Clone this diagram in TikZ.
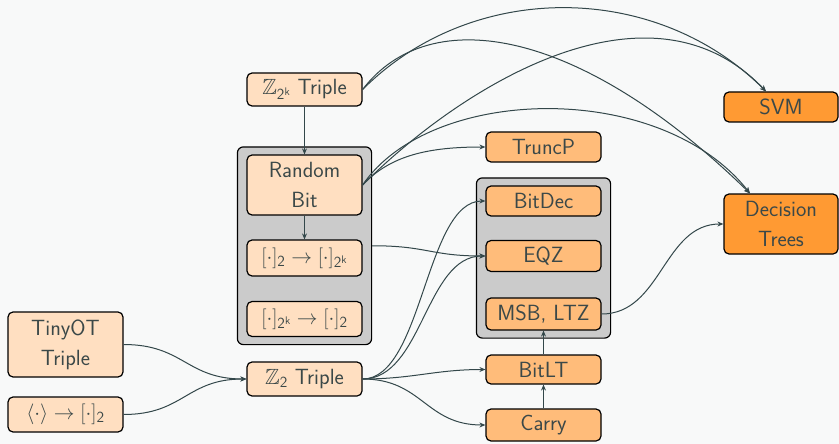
\documentclass[tikz,border=0pt]{standalone}
\usepackage{amssymb}
\usepackage{fontspec}
\usetikzlibrary{arrows.meta,fit,backgrounds}
\definecolor{pagebg}{HTML}{F8F9F9}
\definecolor{textc}{HTML}{3B4848}
\definecolor{edgec}{HTML}{33474A}
\definecolor{lightO}{HTML}{FFDFC1}
\definecolor{midO}{HTML}{FFBC7A}
\definecolor{darkO}{HTML}{FF9A33}
\definecolor{grpfill}{HTML}{CBCBCB}
\tikzset{
  box/.style={draw=black, line width=1.2pt, rounded corners=5pt,
    minimum width=115pt, inner sep=0pt, align=center, text=textc,
    font=\sffamily\fontsize{22}{30}\selectfont},
  basebox/.style={box, fill=lightO},
  midbox/.style={box, fill=midO},
  topbox/.style={box, fill=darkO},
  grp/.style={draw=black, line width=1.2pt, rounded corners=6pt, fill=grpfill,
    inner xsep=9pt, inner ysep=7.5pt},
  arr/.style={draw=edgec, line width=1pt,
    -{Stealth[length=6pt,width=5pt,inset=2pt]}},
}
\newcommand{\sh}[1]{[\cdot]_{\mathsf{#1}}}
\newcommand{\shk}{[\cdot]_{\mathsf{2}^{\mathsf{k}}}}
\begin{document}
\begin{tikzpicture}[x=1pt,y=-1pt]
  \useasboundingbox (0,0) rectangle (839,444);

  % primitives
  \node[basebox, minimum height=33pt] (z2k) at (304.5,89.5) {$\mathbb{Z}_{\mathsf{2}^{\mathsf{k}}}$ Triple};
  \node[basebox, minimum height=60pt] (rb) at (304.5,185) {Random\\Bit};
  \node[basebox, minimum height=36pt] (c2) at (304.5,258) {$\sh{2}\rightarrow\shk$};
  \node[basebox, minimum height=35pt] (c3) at (304.5,319) {$\shk\rightarrow\sh{2}$};
  \node[basebox, minimum height=34pt] (z2) at (304.5,379) {$\mathbb{Z}_{\mathsf{2}}$ Triple};
  \node[basebox, minimum height=65pt] (tiny) at (65.5,344.5) {TinyOT\\Triple};
  \node[basebox, minimum height=35pt] (share) at (65.5,414.5) {$\langle\cdot\rangle\rightarrow\sh{2}$};

  % building blocks
  \node[midbox, minimum height=30pt] (trunc) at (543.5,147) {TruncP};
  \node[midbox, minimum height=30pt] (bitdec) at (543.5,201) {BitDec};
  \node[midbox, minimum height=31pt] (eqz) at (543.5,256) {EQZ};
  \node[midbox, minimum height=32pt] (msb) at (543.5,314) {MSB, LTZ};
  \node[midbox, minimum height=29pt] (bitlt) at (543.5,369.5) {BitLT};
  \node[midbox, minimum height=32pt] (carry) at (543.5,425) {Carry};

  % applications
  \node[topbox, minimum width=114pt, minimum height=30pt] (svm) at (781,107) {SVM};
  \node[topbox, minimum width=114pt, minimum height=60pt] (dt) at (781,224) {Decision\\Trees};

  \begin{scope}[on background layer]
    \fill[pagebg] (0,0) rectangle (839,444);
    \node[grp, fit=(rb)(c2)(c3)] (grp1) {};
    \node[grp, fit=(bitdec)(eqz)(msb)] (grp2) {};
  \end{scope}

  % dependencies
  \draw[arr] (z2k.south) -- (rb.north);
  \draw[arr] (rb.south) -- (c2.north);
  \draw[arr] (carry.north) -- (bitlt.south);
  \draw[arr] (bitlt.north) -- (msb.south);

  \draw[arr] (z2k.east) .. controls +(110,-110) and +(-110,-110) .. ([xshift=-15pt]svm.north);
  \draw[arr] (z2k.east) .. controls +(68,-89) and +(-168,-164) .. ([xshift=-31pt]dt.north);
  \draw[arr] (rb.east) .. controls +(100,-100) and +(-116,-122) .. ([xshift=-15pt]svm.north);
  \draw[arr] (rb.east) .. controls +(68,-100) and +(-90,-114) .. ([xshift=-31pt]dt.north);
  \draw[arr] (rb.east) .. controls +(28,-30) and +(-56,0) .. (trunc.west);

  \draw[arr] (grp1.east) .. controls +(55,0) and +(-55,0) .. (eqz.west);

  \draw[arr] (z2.east) .. controls +(60,0) and +(-60,0) .. (bitdec.west);
  \draw[arr] (z2.east) .. controls +(60,0) and +(-60,0) .. (eqz.west);
  \draw[arr] (z2.east) .. controls +(50,0) and +(-50,0) .. (bitlt.west);
  \draw[arr] (z2.east) .. controls +(60,0) and +(-60,0) .. (carry.west);

  \draw[arr] (tiny.east) .. controls +(60,0) and +(-60,0) .. (z2.west);
  \draw[arr] (share.east) .. controls +(60,0) and +(-60,0) .. (z2.west);

  \draw[arr] (msb.east) .. controls +(60,0) and +(-60,0) .. (dt.west);
\end{tikzpicture}
\end{document}
